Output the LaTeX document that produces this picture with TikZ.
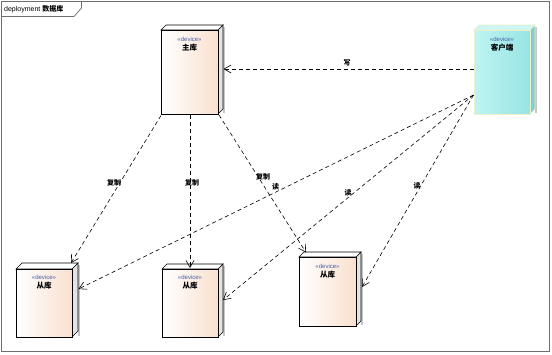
\documentclass[tikz,border=0pt]{standalone}
\usepackage{fontspec}
\setmainfont{Liberation Sans}
\newfontfamily\cjk{Noto Sans CJK SC}
\usetikzlibrary{arrows.meta}
\definecolor{peach}{RGB}{249,224,206}
\definecolor{cyanL}{RGB}{190,244,242}
\definecolor{cyanR}{RGB}{150,228,228}
\definecolor{cyanS}{RGB}{130,205,205}
\definecolor{cyanT}{RGB}{205,246,246}
\definecolor{cyanB}{RGB}{235,240,200}
\definecolor{sideg}{RGB}{228,228,228}
\definecolor{framec}{RGB}{110,110,110}
\definecolor{stereo}{RGB}{70,90,170}
\tikzset{
  dep/.style={draw=black, dash pattern=on 4pt off 3pt, line width=0.6pt,
    -{Straight Barb[length=7pt,width=8pt,line width=0.6pt]}},
  lbl/.style={font=\cjk\bfseries\fontsize{7}{7}\selectfont, inner sep=0pt},
  ster/.style={font=\fontsize{6}{6}\selectfont, text=stereo, inner sep=0pt},
  nm/.style={font=\cjk\bfseries\fontsize{7.5}{7.5}\selectfont, inner sep=0pt},
}
% #1 left, #2 top, #3 right, #4 bottom, #5 depth, #6 name
\newcommand{\devbox}[6]{%
  \fill[gray!45] (#3+#5,#2-#5+2) rectangle (#3+#5+2,#4-1);
  \filldraw[fill=sideg, draw=black, line width=0.6pt] (#3,#2) -- (#3+#5,#2-#5) -- (#3+#5,#4-#5) -- (#3,#4) -- cycle;
  \filldraw[fill=white, draw=black, line width=0.6pt] (#1,#2) -- (#1+#5,#2-#5) -- (#3+#5,#2-#5) -- (#3,#2) -- cycle;
  \node[draw=black, line width=0.6pt, left color=white, right color=peach, minimum width=#3-#1, minimum height=#4-#2, inner sep=0pt, anchor=north west] (#6) at (#1,#2) {};
}
\begin{document}
\begin{tikzpicture}[x=1pt,y=-1pt]
\useasboundingbox (0,0) rectangle (552,354);
\fill[white] (0,0) rectangle (552,354);
% frame
\draw[framec, line width=1pt] (1.5,1.5) rectangle (549.5,351.5);
\draw[framec, line width=0.7pt] (1.5,16.5) -- (74,16.5) -- (81.5,8) -- (81.5,1.5);
\node[anchor=west, inner sep=0pt, font=\fontsize{7}{7}\selectfont] (title) at (4,9) {deployment {\cjk\bfseries 数据库}};

% boxes
\devbox{161}{30}{218}{114}{5}{master}
\node[ster] (ms) at (189.5,39) {«device»};
\node[nm] (mn) at (189.5,47.5) {主库};

% client
\fill[gray!45] (535,27) rectangle (537,113);
\filldraw[fill=cyanS, draw=cyanB, line width=0.6pt] (530,30) -- (535,25) -- (535,109) -- (530,114) -- cycle;
\filldraw[fill=cyanT, draw=cyanB, line width=0.6pt] (474,30) -- (479,25) -- (535,25) -- (530,30) -- cycle;
\node[draw=cyanB, line width=0.6pt, left color=cyanL, right color=cyanR, minimum width=56, minimum height=84, inner sep=0pt, anchor=north west] (client) at (474,30) {};
\node[ster] (cs) at (502,39) {«device»};
\node[nm] (cn) at (502,47.5) {客户端};

\devbox{16}{269}{72}{337}{6}{slaveA}
\node[ster] (as) at (44,277) {«device»};
\node[nm] (an) at (44,286) {从库};

\devbox{162}{269}{218}{337}{5}{slaveB}
\node[ster] (bs) at (190,277) {«device»};
\node[nm] (bn) at (190,286) {从库};

\devbox{299}{257}{356}{326}{5}{slaveC}
\node[ster] (cs2) at (327.5,266) {«device»};
\node[nm] (cn2) at (327.5,275) {从库};

% connector end points
\coordinate (mA) at (161,115.5);
\coordinate (mB) at (190,114.5);
\coordinate (mC) at (219,115);
\coordinate (tA) at (71,263);
\coordinate (tB) at (190,268);
\coordinate (tC) at (306,252.5);
\coordinate (cW) at (474,69);
\coordinate (mR) at (223.5,69);
\coordinate (cO) at (473.5,95);
\coordinate (rA) at (78.5,289);
\coordinate (rB) at (223,300);
\coordinate (rC) at (362,287);

\draw[dep] (cW) -- (mR);
\draw[dep] (mA) -- (tA);
\draw[dep] (mB) -- (tB);
\draw[dep] (mC) -- (tC);
\draw[dep] (cO) -- (rA);
\draw[dep] (cO) -- (rB);
\draw[dep] (cO) -- (rC);

% labels
\node[lbl] (w) at (347,63) {写};
\node[lbl] (c1) at (114,183) {复制};
\node[lbl] (c2) at (192,183) {复制};
\node[lbl] (c3) at (263,177) {复制};
\node[lbl] (r1) at (275.5,187) {读};
\node[lbl] (r2) at (348,193) {读};
\node[lbl] (r3) at (417,186) {读};
\end{tikzpicture}
\end{document}
